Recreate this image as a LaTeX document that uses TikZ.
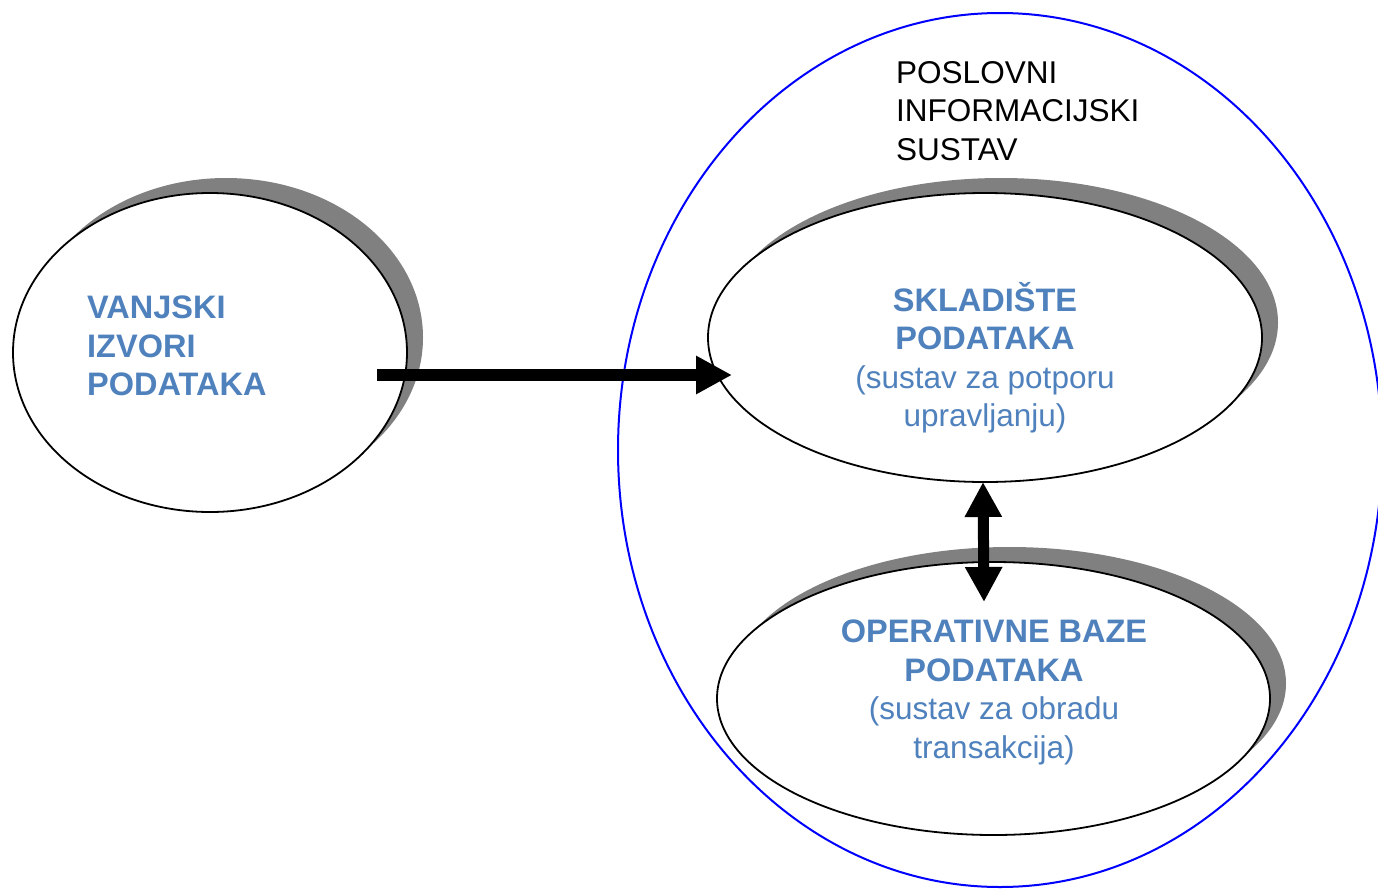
\documentclass[tikz,border=0pt]{standalone}
\usepackage{fontspec}
\setmainfont{Liberation Sans}
\usetikzlibrary{arrows.meta,shapes.geometric,shadows}
\definecolor{txtblue}{RGB}{79,129,189}
\definecolor{shadowgray}{RGB}{128,128,128}
\newcommand{\bigb}{\fontsize{32.5}{38.5}\selectfont\bfseries}
\newcommand{\regt}{\fontsize{31.5}{38.5}\selectfont\mdseries}
\tikzset{
  shell/.style={ellipse, draw=blue, line width=2pt, inner sep=0pt},
  oval/.style={ellipse, draw=black, fill=white, line width=1.8pt, inner sep=0pt,
    drop shadow={shadow xshift=16pt, shadow yshift=15pt, fill=shadowgray, opacity=1}},
  bluetxt/.style={text=txtblue, inner sep=0pt, font=\fontsize{31.5}{38.5}\selectfont},
  blacktxt/.style={text=black, inner sep=0pt, font=\fontsize{31.5}{38.5}\selectfont},
  bigarrow/.style={line width=12.5pt, -{Triangle[length=36pt, width=36pt]}},
  dblarrow/.style={line width=11pt, {Triangle[length=35pt, width=35pt]}-{Triangle[length=35pt, width=35pt]}}
}
\begin{document}
\begin{tikzpicture}[x=1pt, y=-1pt]
  \useasboundingbox (0,0) rectangle (1378,889);
  \clip (0,0) rectangle (1378,889);
  % outer system boundary
  \node[shell, minimum width=764pt, minimum height=874pt] (pis) at (1000,450) {};
  \node[blacktxt, align=left, anchor=west] (pistxt) at (896,111) {POSLOVNI\\INFORMACIJSKI\\SUSTAV};
  % ellipses
  \node[oval, minimum width=394pt, minimum height=319pt] (vanj) at (210,352.5) {};
  \node[oval, minimum width=554pt, minimum height=289pt] (skl) at (985,337.5) {};
  \node[oval, minimum width=553pt, minimum height=273pt] (oper) at (993.5,698.5) {};
  % connectors
  \coordinate (a1) at (377,375);
  \coordinate (a2) at (732,375);
  \draw[bigarrow] (a1) -- (a2);
  \coordinate (b1) at (983,482);
  \coordinate (b2) at (984,602);
  \draw[dblarrow] (b1) -- (b2);
  % texts
  \node[bluetxt, align=left, anchor=west] (vanjtxt) at (87,346)
    {\bigb VANJSKI\\\bigb IZVORI\\\bigb PODATAKA};
  \node[bluetxt, align=center] (skltxt) at (985,357.5)
    {\bigb SKLADIŠTE\\\bigb PODATAKA\\\regt (sustav za potporu\\\regt upravljanju)};
  \node[bluetxt, align=center] (opertxt) at (994,692.5)
    {\bigb OPERATIVNE BAZE\\\bigb PODATAKA\\\regt (sustav za obradu\\\regt transakcija)};
\end{tikzpicture}
\end{document}
